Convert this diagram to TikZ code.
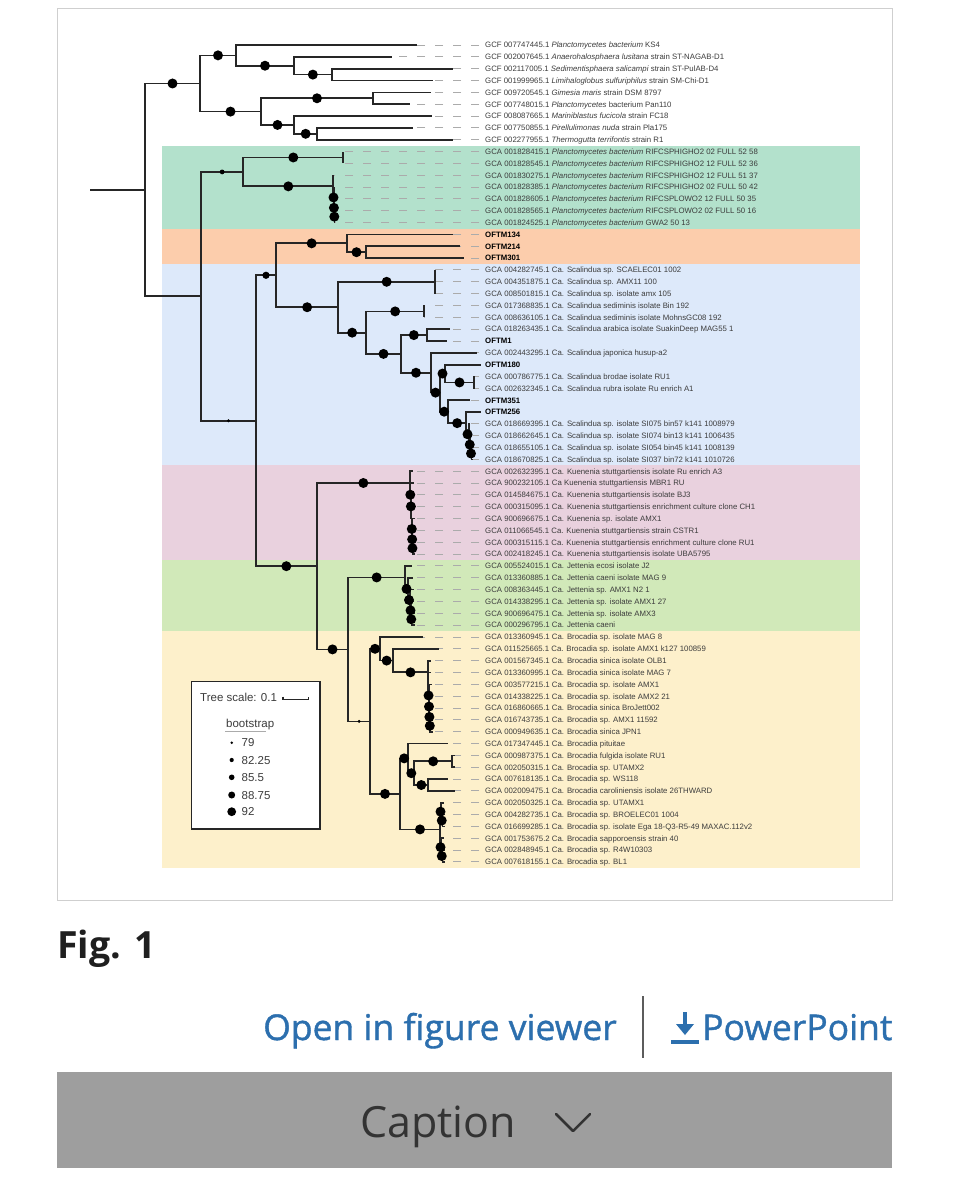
\documentclass[tikz,border=0pt]{standalone}
\usepackage{fontspec}
\setmainfont{Liberation Sans}
\newfontfamily\osans{Open Sans}
\newfontfamily\osanssb[FakeBold=1.1]{Open Sans}
\usetikzlibrary{calc}
\definecolor{bgreen}{HTML}{B3E1CC}
\definecolor{borange}{HTML}{FCCDAC}
\definecolor{bblue}{HTML}{DDE9FA}
\definecolor{bpink}{HTML}{E9D1DE}
\definecolor{bgreentwo}{HTML}{D1E9B9}
\definecolor{byellow}{HTML}{FDF0CB}
\definecolor{treec}{HTML}{262626}
\definecolor{leadc}{HTML}{ABABAB}
\definecolor{labc}{HTML}{3C3C3C}
\definecolor{framec}{HTML}{CFCFCF}
\definecolor{linkc}{HTML}{2C6FAE}
\definecolor{capbg}{HTML}{9E9E9E}
\definecolor{capfg}{HTML}{333333}
\tikzset{
  br/.style={draw=treec, line width=1.7pt},
  lead/.style={draw=leadc, line width=1pt, dash pattern=on 8pt off 10pt},
  bsd/.style={fill=black},
  lab/.style={font=\fontsize{7.8}{9}\selectfont, text=labc, inner sep=0pt, anchor=base west},
  leg/.style={font=\fontsize{11.5}{13}\selectfont, text=labc, inner sep=0pt, anchor=base west},
  band/.style={draw=none},
}
\begin{document}
\begin{tikzpicture}[x=1pt,y=-1pt]
\useasboundingbox (0,0) rectangle (953,1200);
\fill[white] (0,0) rectangle (953,1200);
% frame
\draw[framec, line width=1pt] (57,8) rectangle (892,900);
% bands
\fill[bgreen]    (162,145.7) rectangle (860,228.5);
\fill[borange]   (162,228.5) rectangle (860,264.0);
\fill[bblue]     (162,264.0) rectangle (860,465.3);
\fill[bpink]     (162,465.3) rectangle (860,560.0);
\fill[bgreentwo] (162,560.0) rectangle (860,631.1);
\fill[byellow]   (162,631.1) rectangle (860,868.0);
% internal nodes
\coordinate (R0) at (90,189.9);
\coordinate (R) at (145,189.9);
\coordinate (A) at (200,83.48);
\coordinate (A1) at (236,55.36);
\coordinate (A2) at (294,65.72);
\coordinate (A3) at (331.7,74.6);
\coordinate (B1) at (261,111.6);
\coordinate (B2) at (373,98.28);
\coordinate (B3) at (294,124.92);
\coordinate (B4) at (317.3,133.8);
\coordinate (C) at (201,296.32);
\coordinate (G) at (243.3,171.91);
\coordinate (G1) at (343.3,157.48);
\coordinate (G2) at (333.3,186.34);
\coordinate (G3) at (333.7,197.44);
\coordinate (G4) at (334.1,207.8);
\coordinate (G5) at (334.5,216.68);
\coordinate (D) at (256,420.73);
\coordinate (E) at (276,275.27);
\coordinate (O) at (347.3,243.32);
\coordinate (O2) at (365.7,252.2);
\coordinate (S) at (338.3,307.23);
\coordinate (S1) at (435,281.8);
\coordinate (S2) at (366,332.65);
\coordinate (S3) at (424.3,311.4);
\coordinate (S4) at (401,353.9);
\coordinate (S5) at (426.7,335.08);
\coordinate (S6) at (431,372.73);
\coordinate (S7) at (440,392.62);
\coordinate (S8) at (445,373.56);
\coordinate (S10) at (474,382.44);
\coordinate (S9) at (448.3,411.67);
\coordinate (S11) at (466,423.14);
\coordinate (S12) at (469,434.24);
\coordinate (S13) at (470.5,444.6);
\coordinate (S14) at (471.5,453.48);
\coordinate (K) at (316.7,566.19);
\coordinate (P) at (410,482.99);
\coordinate (P2) at (410.6,494.74);
\coordinate (P3) at (411.2,506.39);
\coordinate (P4) at (411.6,517.86);
\coordinate (P5) at (412,528.96);
\coordinate (P6) at (412.3,539.32);
\coordinate (P7) at (412.6,548.2);
\coordinate (K2) at (348.3,649.39);
\coordinate (J) at (405,577.43);
\coordinate (J2) at (408,588.9);
\coordinate (J3) at (410,600);
\coordinate (J4) at (411,610.36);
\coordinate (J5) at (411.5,619.24);
\coordinate (Y) at (370,721.34);
\coordinate (Y1) at (380,648.8);
\coordinate (Y2) at (393.3,660.59);
\coordinate (Y3) at (427.7,672.34);
\coordinate (Y4) at (428.3,683.99);
\coordinate (Y5) at (428.8,695.46);
\coordinate (Y6) at (429.2,706.56);
\coordinate (Y7) at (429.6,716.92);
\coordinate (Y8) at (430,725.8);
\coordinate (Z) at (400,793.88);
\coordinate (Z1) at (408.3,758.36);
\coordinate (Z2) at (414.3,773.16);
\coordinate (Z3) at (452,761.32);
\coordinate (Z4) at (428.3,785);
\coordinate (Z5) at (440,829.4);
\coordinate (Z6) at (441,811.64);
\coordinate (Z6b) at (442.5,820.52);
\coordinate (Z7) at (441,847.16);
\coordinate (Z7b) at (442.5,856.04);
% leaves, leaders and labels
\foreach \i/\tx/\lab in {
 0/416.7/GCF 007747445.1 \textit{Planctomycetes bacterium} KS4,
 1/392/GCF 002007645.1 \textit{Anaerohalosphaera lusitana} strain ST-NAGAB-D1,
 2/453/GCF 002117005.1 \textit{Sedimentisphaera salicampi} strain ST-PulAB-D4,
 3/433/GCF 001999965.1 \textit{Limihaloglobus sulfuriphilus} strain SM-Chi-D1,
 4/430.7/GCF 009720545.1 \textit{Gimesia maris} strain DSM 8797,
 5/410/GCF 007748015.1 \textit{Planctomycetes} bacterium Pan110,
 6/431.7/GCF 008087665.1 \textit{Mariniblastus fucicola} strain FC18,
 7/413/GCF 007750855.1 \textit{Pirellulimonas nuda} strain Pla175,
 8/453/GCF 002277955.1 \textit{Thermogutta terrifontis} strain R1,
 9/343.3/GCA 001828415.1 \textit{Planctomycetes bacterium} RIFCSPHIGHO2 02 FULL 52 58,
 10/343.3/GCA 001828545.1 \textit{Planctomycetes bacterium} RIFCSPHIGHO2 12 FULL 52 36,
 11/333.3/GCA 001830275.1 \textit{Planctomycetes bacterium} RIFCSPHIGHO2 12 FULL 51 37,
 12/333.7/GCA 001828385.1 \textit{Planctomycetes bacterium} RIFCSPHIGHO2 02 FULL 50 42,
 13/334.1/GCA 001828605.1 \textit{Planctomycetes bacterium} RIFCSPLOWO2 12 FULL 50 35,
 14/334.5/GCA 001828565.1 \textit{Planctomycetes bacterium} RIFCSPLOWO2 02 FULL 50 16,
 15/334.5/GCA 001824525.1 \textit{Planctomycetes bacterium} GWA2 50 13,
 16/453/\textbf{\color{black}OFTM134},
 17/460/\textbf{\color{black}OFTM214},
 18/464/\textbf{\color{black}OFTM301},
 19/435/GCA 004282745.1 Ca. Scalindua sp. SCAELEC01 1002,
 20/435/GCA 004351875.1 Ca. Scalindua sp. AMX11 100,
 21/435/GCA 008501815.1 Ca. Scalindua sp. isolate amx 105,
 22/424.3/GCA 017368835.1 Ca. Scalindua sediminis isolate Bin 192,
 23/424.3/GCA 008636105.1 Ca. Scalindua sediminis isolate MohnsGC08 192,
 24/450/GCA 018263435.1 Ca. Scalindua arabica isolate SuakinDeep MAG55 1,
 25/447.3/\textbf{\color{black}OFTM1},
 26/476.7/GCA 002443295.1 Ca. Scalindua japonica husup-a2,
 27/481/\textbf{\color{black}OFTM180},
 28/475/GCA 000786775.1 Ca. Scalindua brodae isolate RU1,
 29/475/GCA 002632345.1 Ca. Scalindua rubra isolate Ru enrich A1,
 30/470/\textbf{\color{black}OFTM351},
 31/481/\textbf{\color{black}OFTM256},
 32/470/GCA 018669395.1 Ca. Scalindua sp. isolate SI075 bin57 k141 1008979,
 33/471.5/GCA 018662645.1 Ca. Scalindua sp. isolate SI074 bin13 k141 1006435,
 34/473/GCA 018655105.1 Ca. Scalindua sp. isolate SI054 bin45 k141 1008139,
 35/473/GCA 018670825.1 Ca. Scalindua sp. isolate SI037 bin72 k141 1010726,
 36/413/GCA 002632395.1 Ca. Kuenenia stuttgartiensis isolate Ru enrich A3,
 37/413.5/GCA 900232105.1 Ca Kuenenia stuttgartiensis MBR1 RU,
 38/414/GCA 014584675.1 Ca. Kuenenia stuttgartiensis isolate BJ3,
 39/414/GCA 000315095.1 Ca. Kuenenia stuttgartiensis enrichment culture clone CH1,
 40/414.5/GCA 900696675.1 Ca. Kuenenia sp. isolate AMX1,
 41/414.5/GCA 011066545.1 Ca. Kuenenia stuttgartiensis strain CSTR1,
 42/415/GCA 000315115.1 Ca. Kuenenia stuttgartiensis enrichment culture clone RU1,
 43/415/GCA 002418245.1 Ca. Kuenenia stuttgartiensis isolate UBA5795,
 44/412/GCA 005524015.1 Ca. Jettenia ecosi isolate J2,
 45/413/GCA 013360885.1 Ca. Jettenia caeni isolate MAG 9,
 46/414/GCA 008363445.1 Ca. Jettenia sp. AMX1 N2 1,
 47/414/GCA 014338295.1 Ca. Jettenia sp. isolate AMX1 27,
 48/414.5/GCA 900696475.1 Ca. Jettenia sp. isolate AMX3,
 49/414.5/GCA 000296795.1 Ca. Jettenia caeni,
 50/422.7/GCA 013360945.1 Ca. Brocadia sp. isolate MAG 8,
 51/439.3/GCA 011525665.1 Ca. Brocadia sp. isolate AMX1 k127 100859,
 52/431/GCA 001567345.1 Ca. Brocadia sinica isolate OLB1,
 53/431/GCA 013360995.1 Ca. Brocadia sinica isolate MAG 7,
 54/431.5/GCA 003577215.1 Ca. Brocadia sp. isolate AMX1,
 55/432/GCA 014338225.1 Ca. Brocadia sp. isolate AMX2 21,
 56/432/GCA 016860665.1 Ca. Brocadia sinica BroJett002,
 57/432.5/GCA 016743735.1 Ca. Brocadia sp. AMX1 11592,
 58/432.5/GCA 000949635.1 Ca. Brocadia sinica JPN1,
 59/448.3/GCA 017347445.1 Ca. Brocadia pituitae,
 60/455/GCA 000987375.1 Ca. Brocadia fulgida isolate RU1,
 61/455/GCA 002050315.1 Ca. Brocadia sp. UTAMX2,
 62/448.3/GCA 007618135.1 Ca. Brocadia sp. WS118,
 63/455/GCA 002009475.1 Ca. Brocadia caroliniensis isolate 26THWARD,
 64/444/GCA 002050325.1 Ca. Brocadia sp. UTAMX1,
 65/445/GCA 004282735.1 Ca. Brocadia sp. BROELEC01 1004,
 66/445/GCA 016699285.1 Ca. Brocadia sp. isolate Ega 18-Q3-R5-49 MAXAC.112v2,
 67/444/GCA 001753675.2 Ca. Brocadia sapporoensis strain 40,
 68/445/GCA 002848945.1 Ca. Brocadia sp. R4W10303,
 69/445/GCA 007618155.1 Ca. Brocadia sp. BL1}{
  \coordinate (L\i) at (\tx,{45+11.84*\i});
  \draw[lead] (479,{45+11.84*\i}) -- (L\i);
  \node[lab] (T\i) at (485,{45+11.84*\i+2.8}) {\lab};
}
% branches
\def\edges{R/A/5.0, R/C/0, A/A1/5.0, A/B1/5.0, A1/L0/0, A1/A2/5.0,
 A2/L1/0, A2/A3/5.0, A3/L2/0, A3/L3/0, B1/B2/5.0, B1/B3/5.0,
 B2/L4/0, B2/L5/0, B3/L6/0, B3/B4/5.0, B4/L7/0, B4/L8/0,
 C/G/2.4, C/D/1.6, G/G1/5.0, G/G2/5.0, G1/L9/0, G1/L10/0,
 G2/L11/0, G2/G3/5.0, G3/L12/0, G3/G4/5.0, G4/L13/0, G4/G5/5.0,
 G5/L14/0, G5/L15/0, D/E/3.6, D/K/5.0, E/O/5.0, E/S/5.0,
 O/L16/0, O/O2/5.0, O2/L17/0, O2/L18/0, S/S1/5.0, S/S2/5.0,
 S1/L19/0, S1/L20/0, S1/L21/0, S2/S3/5.0, S2/S4/5.0, S3/L22/0, S3/L23/0,
 S4/S5/5.0, S4/S6/5.0, S5/L24/0, S5/L25/0, S6/L26/0, S6/S7/5.0,
 S7/S8/5.0, S7/S9/5.0, S8/L27/0, S8/S10/5.0, S10/L28/0, S10/L29/0,
 S9/L30/0, S9/S11/5.0, S11/L31/0, S11/S12/5.0, S12/L32/0, S12/S13/5.0,
 S13/L33/0, S13/S14/5.0, S14/L34/0, S14/L35/0,
 K/P/5.0, K/K2/5.0, P/L36/0, P/P2/5.0, P2/L37/0, P2/P3/5.0,
 P3/L38/0, P3/P4/0, P4/L39/0, P4/P5/5.0, P5/L40/0, P5/P6/5.0,
 P6/L41/0, P6/P7/5.0, P7/L42/0, P7/L43/0,
 K2/J/5.0, K2/Y/1.6, J/L44/0, J/J2/5.0, J2/L45/0, J2/J3/5.0,
 J3/L46/0, J3/J4/5.0, J4/L47/0, J4/J5/5.0, J5/L48/0, J5/L49/0,
 Y/Y1/5.0, Y/Z/5.0, Y1/L50/0, Y1/Y2/5.0, Y2/L51/0, Y2/Y3/5.0,
 Y3/L52/0, Y3/Y4/0, Y4/L53/0, Y4/Y5/5.0, Y5/L54/0, Y5/Y6/5.0,
 Y6/L55/0, Y6/Y7/5.0, Y7/L56/0, Y7/Y8/5.0, Y8/L57/0, Y8/L58/0,
 Z/Z1/5.0, Z/Z5/5.0, Z1/L59/0, Z1/Z2/5.0, Z2/Z3/5.0, Z2/Z4/5.0,
 Z3/L60/0, Z3/L61/0, Z4/L62/0, Z4/L63/0, Z5/Z6/5.0, Z5/Z7/5.0,
 Z6/L64/0, Z6/Z6b/5.0, Z6b/L65/0, Z6b/L66/0, Z7/L67/0, Z7/Z7b/5.0,
 Z7b/L68/0, Z7b/L69/0}
\draw[br] (R0) -- (R);
\foreach \pa/\ch/\rad in \edges {
  \draw[br] (\pa) |- (\ch);
}
\foreach \pa/\ch/\rad in \edges {
  \ifdim\rad pt>0pt \fill[bsd] ($(\pa|-\ch)!0.5!(\ch)$) circle (\rad pt);\fi
}
% legend
\node[draw=treec, line width=1.4pt, fill=white, minimum width=128.6pt, minimum height=147.3pt, inner sep=0pt, anchor=north west] (legend) at (190.7,681) {};
\node[leg] (ts) at (200,701.5) {Tree scale: 0.1};
\draw[treec, line width=1.3pt] (283,696.5) -- (283,699.5) -- (308.5,699.5) -- (308.5,696.5);
\node[leg] (bslab) at (226,727.5) {bootstrap};
\draw[leadc, line width=0.9pt] (225,731.5) -- (266,731.5);
\foreach \v/\yy/\rr in {79/742.7/1.4, 82.25/760/2.1, 85.5/777.3/2.8, 88.75/795/3.5, 92/811.7/4.4}{
  \fill[black] (231.7,\yy) circle (\rr pt);
  \node[leg] at (241.5,\yy+4.2) {\v};
}
% page elements below the figure
\node[font=\osans\bfseries\fontsize{37.5}{44}\selectfont, text=black!88, inner sep=0pt, anchor=base west] (figlab) at (57,958) {Fig. 1};
\node[font=\osanssb\fontsize{35.5}{42}\selectfont, text=linkc, inner sep=0pt, anchor=base west] (openv) at (263,1040) {Open in figure viewer};
\draw[capfg!80, line width=1.5pt] (643,996) -- (643,1058);
\fill[linkc] (683.3,1012) rectangle (686.7,1026);
\fill[linkc] (676,1024) -- (694,1024) -- (685,1035) -- cycle;
\fill[linkc] (671,1040) rectangle (699,1043.5);
\node[font=\osanssb\fontsize{35.5}{42}\selectfont, text=linkc, inner sep=0pt, anchor=base west] (ppt) at (702,1040) {PowerPoint};
\fill[capbg] (57,1072) rectangle (892,1168);
\node[font=\osans\fontsize{43}{49}\selectfont, text=capfg, inner sep=0pt, anchor=base west] (cap) at (360,1137) {Caption};
\draw[capfg, line width=2.5pt, line cap=round, line join=round] (556,1114) -- (573,1131) -- (590,1114);
\end{tikzpicture}
\end{document}
